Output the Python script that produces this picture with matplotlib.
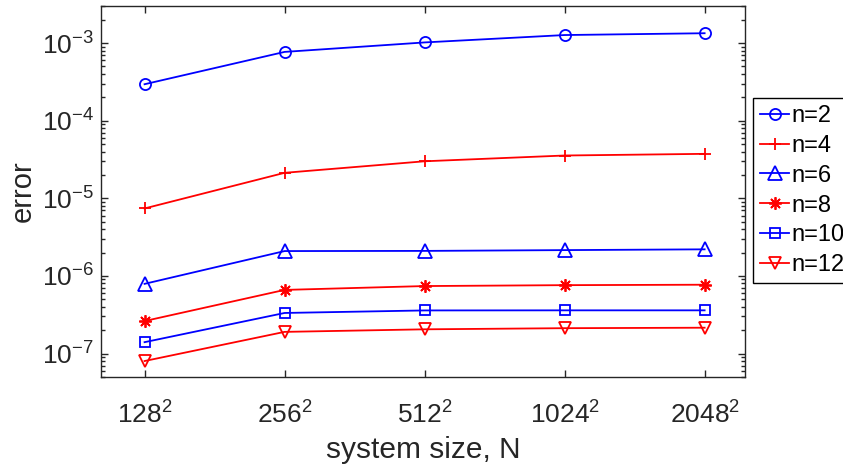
import matplotlib
matplotlib.use('Agg')
import matplotlib.pyplot as plt
from matplotlib.ticker import LogLocator, NullFormatter

plt.rcParams['font.family'] = ['Liberation Sans', 'DejaVu Sans']
plt.rcParams['mathtext.fontset'] = 'custom'
plt.rcParams['mathtext.rm'] = 'Liberation Sans Narrow'
plt.rcParams['mathtext.it'] = 'Liberation Sans Narrow:italic'
plt.rcParams['mathtext.bf'] = 'Liberation Sans Narrow:bold'

# data
sizes = ['128', '256', '512', '1024', '2048']
err_n2 = [2.95e-4, 7.7e-4, 1.02e-3, 1.27e-3, 1.34e-3]
err_n4 = [7.4e-6, 2.13e-5, 3.0e-5, 3.56e-5, 3.74e-5]
err_n6 = [7.9e-7, 2.09e-6, 2.1e-6, 2.15e-6, 2.2e-6]
err_n8 = [2.62e-7, 6.6e-7, 7.4e-7, 7.6e-7, 7.7e-7]
err_n10 = [1.40e-7, 3.33e-7, 3.59e-7, 3.6e-7, 3.6e-7]
err_n12 = [8.0e-8, 1.9e-7, 2.05e-7, 2.12e-7, 2.15e-7]
labels = ['n=2', 'n=4', 'n=6', 'n=8', 'n=10', 'n=12']

series = [err_n2, err_n4, err_n6, err_n8, err_n10, err_n12]
styles = [('b', 'o'), ('r', '+'), ('b', '^'), ('r', (8, 2, 0)), ('b', 's'), ('r', 'v')]
msizes = [8, 9, 10, 9, 7.5, 9]

dark = '#262626'
fig = plt.figure(figsize=(8.43, 4.67), dpi=100)
ax = fig.add_axes([0.12, 0.193, 0.764, 0.794])

x = list(range(len(sizes)))
for ys, (c, m), ms, lab in zip(series, styles, msizes, labels):
    ax.plot(x, ys, color=c, marker=m, markersize=ms, markerfacecolor='none',
            markeredgewidth=1.3, linewidth=1.3, label=lab)

ax.set_yscale('log')
ax.set_ylim(5e-8, 3e-3)
ax.set_xlim(-0.31, 4.29)
ax.set_xticks(x)
ax.set_xticklabels([r'$\mathregular{%s^2}$' % s for s in sizes])
ax.yaxis.set_major_locator(LogLocator(base=10, numticks=20))
ax.yaxis.set_minor_locator(LogLocator(base=10, subs=range(2, 10), numticks=20))
ax.yaxis.set_minor_formatter(NullFormatter())

for sp in ax.spines.values():
    sp.set_color(dark)
    sp.set_linewidth(1.0)
ax.tick_params(which='both', direction='in', top=True, right=True, colors=dark,
               labelsize=19, width=1.0)
ax.tick_params(which='major', length=5)
ax.tick_params(axis='y', which='major', pad=5)
ax.tick_params(axis='x', which='major', pad=18)
ax.tick_params(which='minor', length=3)
ax.tick_params(axis='x', which='minor', top=False, bottom=False)

ax.set_xlabel('system size, N', fontsize=21.5, color=dark, labelpad=5)
ax.set_ylabel('error', fontsize=21, color=dark, labelpad=4)

leg = fig.legend(loc='upper left', bbox_to_anchor=(0.893, 0.790), fontsize=17,
                 frameon=True, fancybox=False, edgecolor='black', framealpha=1,
                 handlelength=1.25, handletextpad=0.08, labelspacing=0.33,
                 borderpad=0.3, borderaxespad=0)
leg.get_frame().set_linewidth(1.0)

fig.savefig('out.png', dpi=100)
